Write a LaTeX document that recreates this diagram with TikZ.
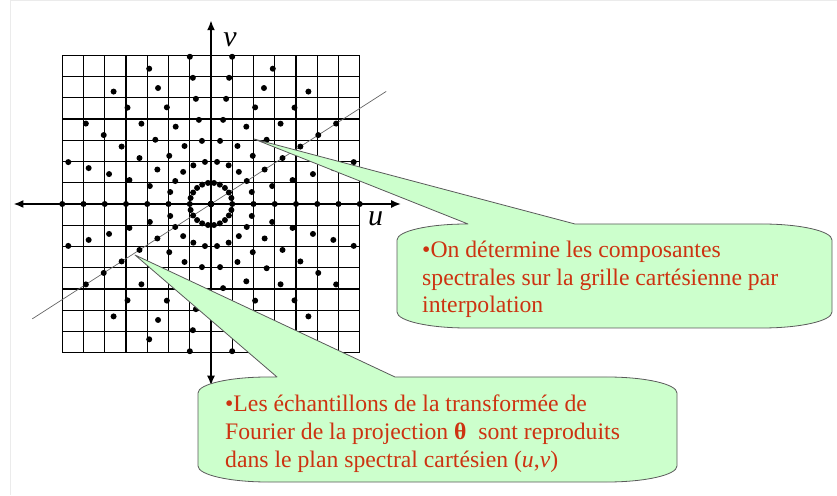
\documentclass[tikz,border=0pt]{standalone}
\usepackage{fontspec}
\setmainfont{Liberation Serif}
\usetikzlibrary{arrows.meta, positioning, calc}

\definecolor{notered}{RGB}{204,51,17}
\definecolor{notefill}{RGB}{204,255,204}
\definecolor{noteline}{RGB}{90,90,90}

\begin{document}
\begin{tikzpicture}[x=1pt, y=1pt,
        gridline/.style={black, line width=1.2pt},
        axis/.style={{Latex[length=10pt,width=8pt]}-{Latex[length=10pt,width=8pt]}, line width=2.2pt},
        projline/.style={black!60, line width=0.7pt},
        sample/.style={fill=black},
        callout/.style={fill=notefill, draw=noteline, line width=0.8pt, line join=round},
        note/.style={text=notered, align=left, inner sep=0pt, font=\fontsize{23.7}{27.5}\selectfont},
        axislabel/.style={inner sep=0pt, font=\fontsize{30}{30}\selectfont\itshape}
    ]
        \useasboundingbox (0,0) rectangle (837,495);
        % slide frame
        \draw[black!8, line width=0.8pt] (10,0) -- (10,494.6) -- (837,494.6);

        \begin{scope}[shift={(211,291)}, x=21.25pt, y=21.25pt]
            % Cartesian grid
            \draw[gridline, step=1] (-7,-7) grid (7,7);

            % Axes
            \coordinate (uneg) at (-9.3,0);
            \coordinate (upos) at (8.95,0);
            \coordinate (vneg) at (0,-8.55);
            \coordinate (vpos) at (0,8.65);
            \draw[axis] (uneg) -- (upos);
            \draw[axis] (vneg) -- (vpos);
            \node[axislabel] (ulabel) at (7.75,-0.7) {u};
            \node[axislabel] (vlabel) at (0.9,7.75) {v};

            % Projection line
            \coordinate (pstart) at (360/11:-10);
            \coordinate (pend) at (360/11:9.8);
            \draw[projline] (pstart) -- (pend);

            % Polar samples
            \foreach \k in {0,...,10}
                \foreach \j in {-7,...,7}
                    \fill[sample] ({\k*180/11}:\j) circle (3pt);
        \end{scope}

        % Callout tips
        \coordinate (tip1) at (254,356);
        \coordinate (tip2) at (135,240);

        % Upper callout
        \filldraw[callout] (397,183) -- (397,255)
            arc[start angle=180, end angle=90, x radius=70, y radius=16]
            -- (468,271) -- (tip1) -- (575,271) -- (762,271)
            arc[start angle=90, end angle=0, x radius=70, y radius=16]
            -- (832,183)
            arc[start angle=0, end angle=-90, x radius=70, y radius=16]
            -- (467,167)
            arc[start angle=270, end angle=180, x radius=70, y radius=16] -- cycle;
        \node[note, anchor=base west] (note1) at (422,182)
            {•On détermine les composantes\\spectrales sur la grille cartésienne par\\interpolation};

        % Lower callout
        \filldraw[callout] (198,29) -- (198,102)
            arc[start angle=180, end angle=90, x radius=70, y radius=16]
            -- (277,118) -- (tip2) -- (395,118) -- (607,118)
            arc[start angle=90, end angle=0, x radius=70, y radius=16]
            -- (677,29)
            arc[start angle=0, end angle=-90, x radius=70, y radius=16]
            -- (268,13)
            arc[start angle=270, end angle=180, x radius=70, y radius=16] -- cycle;
        \node[note, anchor=base west] (note2) at (225,28)
            {•Les échantillons de la transformée de\\Fourier de la projection \textbf{θ}~ sont reproduits\\dans le plan spectral cartésien (\textit{u},\textit{v})};
    \end{tikzpicture}
\end{document}
